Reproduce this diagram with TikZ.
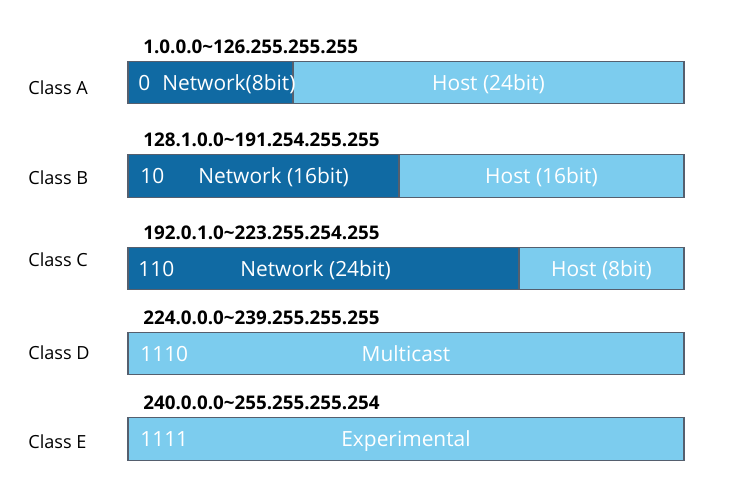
\documentclass[tikz,border=0pt]{standalone}
\usepackage{fontspec}
\setmainfont{Open Sans}
\usepackage{tikz}
\usetikzlibrary{positioning}

\definecolor{netblue}{RGB}{16,106,163}
\definecolor{hostblue}{RGB}{124,204,238}
\definecolor{barline}{RGB}{85,95,110}

\begin{document}
\begin{tikzpicture}[
  font=\fontsize{11.9}{13}\selectfont,
  part/.style={rectangle, draw=barline, line width=0.6pt, outer sep=0pt, minimum height=0.85cm, inner sep=0pt, text=white, text height=0.9em, text depth=0pt},
  netpart/.style={part, fill=netblue},
  hostpart/.style={part, fill=hostblue},
  addrlabel/.style={anchor=south west, font=\fontsize{10.7}{12}\selectfont\bfseries, inner sep=0pt},
  clsname/.style={anchor=west, inner sep=0pt, font=\fontsize{10.3}{12}\selectfont},
  bits/.style={anchor=west, text=white, inner sep=0pt, text height=0.9em, text depth=0pt}
]
\useasboundingbox (0,0) rectangle (14.86,-10.04);
% Class A: 0 + network(8) + host(24)
\node[netpart, anchor=west, minimum width=3.3cm] (aNet) at (2.56,-1.65) {};
\node[hostpart, right=0pt of aNet, minimum width=7.82cm] (aHost) {Host (24bit)};
\node[bits] (aBits) at ([xshift=0.2cm]aNet.west) {0};
\node[bits] (aNetTxt) at ([xshift=0.68cm]aNet.west) {Network(8bit)};
% Class B: 10 + network(16) + host(16)
\node[netpart, anchor=west, minimum width=5.42cm] (bNet) at (2.56,-3.52) {};
\node[hostpart, right=0pt of bNet, minimum width=5.70cm] (bHost) {Host (16bit)};
\node[bits] (bBits) at ([xshift=0.24cm]bNet.west) {10};
\node[bits] (bNetTxt) at ([xshift=1.4cm]bNet.west) {Network (16bit)};
% Class C: 110 + network(24) + host(8)
\node[netpart, anchor=west, minimum width=7.82cm] (cNet) at (2.56,-5.37) {};
\node[hostpart, right=0pt of cNet, minimum width=3.30cm] (cHost) {Host (8bit)};
\node[bits] (cBits) at ([xshift=0.2cm]cNet.west) {110};
\node[bits] (cNetTxt) at ([xshift=2.24cm]cNet.west) {Network (24bit)};
% Class D and E: whole bar
\node[hostpart, anchor=west, minimum width=11.12cm] (dBar) at (2.56,-7.07) {Multicast};
\node[bits] (dBits) at ([xshift=0.24cm]dBar.west) {1110};
\node[hostpart, anchor=west, minimum width=11.12cm] (eBar) at (2.56,-8.78) {Experimental};
\node[bits] (eBits) at ([xshift=0.24cm]eBar.west) {1111};
% address ranges
\node[addrlabel] (aRange) at ([xshift=0.3cm,yshift=0.15cm]aNet.north west) {1.0.0.0\textasciitilde126.255.255.255};
\node[addrlabel] (bRange) at ([xshift=0.3cm,yshift=0.15cm]bNet.north west) {128.1.0.0\textasciitilde191.254.255.255};
\node[addrlabel] (cRange) at ([xshift=0.3cm,yshift=0.15cm]cNet.north west) {192.0.1.0\textasciitilde223.255.254.255};
\node[addrlabel] (dRange) at ([xshift=0.3cm,yshift=0.15cm]dBar.north west) {224.0.0.0\textasciitilde239.255.255.255};
\node[addrlabel] (eRange) at ([xshift=0.3cm,yshift=0.15cm]eBar.north west) {240.0.0.0\textasciitilde255.255.255.254};
% class names
\node[clsname] (aCls) at (0.56,-1.76) {Class A};
\node[clsname] (bCls) at (0.56,-3.56) {Class B};
\node[clsname] (cCls) at (0.56,-5.2) {Class C};
\node[clsname] (dCls) at (0.56,-7.06) {Class D};
\node[clsname] (eCls) at (0.56,-8.84) {Class E};
\end{tikzpicture}
\end{document}
